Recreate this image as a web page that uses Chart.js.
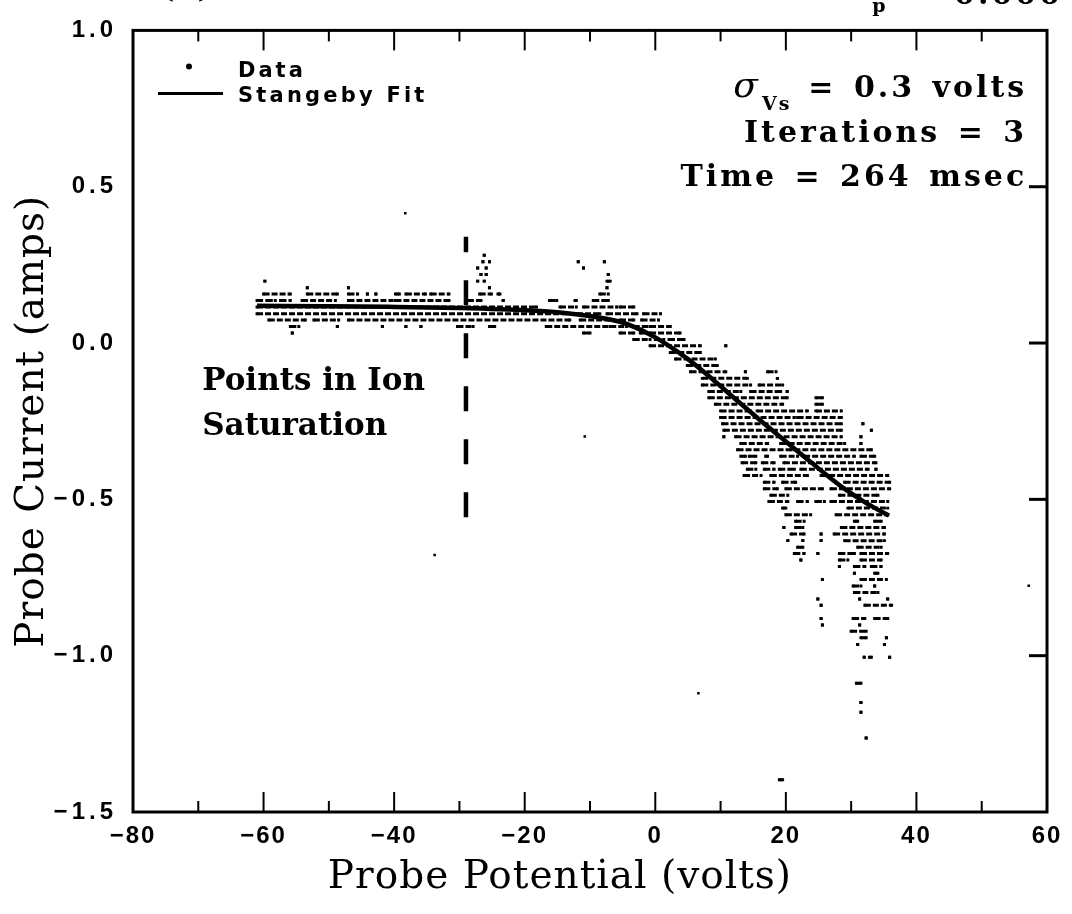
<!DOCTYPE html>
<html>
<head>
<meta charset="utf-8">
<script src="https://cdn.jsdelivr.net/npm/chart.js@4.4.1/dist/chart.umd.min.js"></script>
<style>
  html, body { margin: 0; padding: 0; background: #fff; }
  #wrap { width: 1072px; height: 914px; }
</style>
</head>
<body>
<div id="wrap"><canvas id="probe" width="1072" height="914"></canvas></div>
<script>
// Stangeby fit (volts, amps)
var fitVolts = [-61, -50, -41, -30, -19, -14.6, -9.5, -5.4, -2.3, 0, 1.8, 4.9, 8, 11.1, 13.1, 15, 17.2, 20, 22.3, 24, 26, 28.9, 32, 34, 35.8];
var fitAmps  = [0.119, 0.118, 0.116, 0.112, 0.104, 0.098, 0.085, 0.068, 0.043, 0.018, -0.005, -0.05, -0.102, -0.158, -0.194, -0.228, -0.267, -0.315, -0.355, -0.384, -0.418, -0.465, -0.508, -0.532, -0.552];

// probe data: digitizer levels (amps) and the runs of samples on each level
// (pairs of volts: from, to)
var dataLevels = [0.281, 0.260, 0.240, 0.219, 0.198, 0.177, 0.157, 0.136, 0.115, 0.094,
                  0.074, 0.053, 0.032, 0.011, -0.009, -0.030, -0.051, -0.072, -0.092, -0.113,
                  -0.134, -0.155, -0.175, -0.196, -0.217, -0.238, -0.258, -0.279, -0.300, -0.321,
                  -0.341, -0.362, -0.383, -0.404, -0.424, -0.445, -0.466, -0.487, -0.507, -0.528,
                  -0.549, -0.570, -0.590, -0.611, -0.632, -0.653, -0.673, -0.694, -0.715, -0.736,
                  -0.756, -0.777, -0.798, -0.819, -0.839, -0.881, -0.902, -0.922, -0.943, -0.964,
                  -1.005, -1.088, -1.150, -1.181, -1.263, -1.397];
var dataRuns = [
  [-26.2, -26.2],
  [-26.4, -26.4, -25.4, -25.4, -11.8, -11.8, -7.8, -7.8],
  [-27.2, -27.2, -25.9, -25.9, -11.0, -11.0],
  [-26.7, -26.7, -25.9, -25.9, -7.2, -7.2],
  [-59.8, -59.8, -27.2, -27.2, -26.2, -26.2, -7.4, -6.9],
  [-53.3, -53.3, -47.0, -47.0, -25.4, -25.4, -7.4, -7.4],
  [-60.0, -55.9, -53.3, -48.7, -47.0, -45.6, -44.1, -44.1, -42.8, -42.8, -39.8, -39.2, -38.2, -35.2, -34.4, -31.6, -26.9, -25.1, -24.1, -23.8, -8.5, -7.2],
  [-61.0, -60.3, -59.5, -58.2, -57.4, -55.9, -54.1, -49.0, -47.0, -40.3, -39.8, -31.6, -28.7, -26.7, -23.3, -23.3, -16.2, -15.1, -12.3, -12.1, -9.5, -7.2],
  [-61.0, -18.2, -14.6, -12.1, -11.0, -5.9, -5.4, -3.3],
  [-61.0, -8.5, -7.4, -2.8, -1.8, 0.8],
  [-59.2, -53.6, -52.3, -48.5, -47.0, -13.1, -11.5, -6.4, -5.4, -3.3, -2.1, 0.5],
  [-55.9, -54.6, -48.7, -48.7, -41.8, -41.8, -38.2, -38.2, -35.9, -35.9, -30.3, -27.9, -25.4, -24.6, -16.7, -7.4, -6.9, -4.4, -3.3, -1.3, -0.8, 2.3],
  [-55.6, -55.6, -11.0, -10.0, -5.4, -3.3, -2.3, -1.3, -0.8, 3.8],
  [-3.3, -0.8, 0, 1.3, 2.1, 4.4],
  [-0.8, 6.9, 10.8, 10.8],
  [2.3, 6.9],
  [3.1, 9.2],
  [4.9, 9.5],
  [5.4, 10.8, 13.8, 13.8, 17.2, 18.5],
  [7.2, 14.1, 18.7, 18.7],
  [7.2, 14.6, 15.9, 19.5],
  [8.2, 13.1, 14.6, 19.2, 20.2, 20.2],
  [8.2, 20.2, 24.6, 25.6],
  [9.2, 19.5, 24.6, 25.6],
  [10.0, 14.6, 15.6, 23.3, 24.6, 28.5],
  [10.0, 21.3, 21.8, 28.5],
  [10.3, 28.5, 31.8, 31.8],
  [10.5, 28.5, 33.1, 33.1],
  [10.5, 10.5, 12.3, 28.5, 31.5, 31.5],
  [13.1, 17.2, 19.2, 29.0, 31.5, 31.5],
  [12.6, 20.8, 21.3, 33.1],
  [13.1, 13.8, 14.4, 15.4, 16.9, 17.2, 19.2, 21.8, 22.8, 30.5, 31.5, 33.6],
  [13.3, 15.4, 16.4, 18.2, 19.7, 33.8],
  [14.1, 15.4, 16.7, 18.2, 19.0, 21.3, 22.3, 32.6, 33.8, 33.8],
  [13.6, 16.2, 17.7, 23.3, 25.4, 35.6],
  [16.7, 18.2, 19.5, 21.5, 29.0, 35.9],
  [16.7, 18.7, 20.0, 25.6, 26.9, 35.9],
  [17.7, 20.3, 28.2, 34.1],
  [17.4, 20.3, 21.8, 23.3, 24.6, 25.9, 26.9, 35.6],
  [19.5, 20.0, 29.5, 35.6],
  [20.0, 23.8, 27.7, 35.6],
  [21.5, 22.8, 30.5, 31.0, 33.6, 34.6],
  [19.7, 19.7, 21.5, 22.6, 28.5, 35.1],
  [20.8, 22.8, 25.4, 25.4, 27.4, 35.1],
  [20.3, 20.3, 22.6, 22.6, 25.4, 25.4, 29.0, 35.1],
  [21.8, 22.6, 31.0, 34.6],
  [21.3, 22.8, 24.9, 24.9, 28.2, 30.5, 31.5, 35.6],
  [22.3, 22.3, 28.2, 29.5, 31.5, 34.6],
  [28.2, 28.2, 30.5, 32.1, 33.1, 34.6],
  [30.5, 30.5, 33.6, 34.1],
  [25.6, 25.6, 31.5, 35.4],
  [30.3, 31.5, 33.6, 33.6],
  [30.5, 34.1],
  [24.9, 24.9, 31.3, 31.3, 35.6, 35.6],
  [25.4, 25.4, 32.1, 36.2],
  [25.4, 25.4, 30.3, 32.1, 33.6, 35.6],
  [25.6, 25.6, 31.3, 31.3],
  [30.0, 32.3],
  [31.5, 32.3, 35.4, 35.4],
  [31.0, 31.0, 35.1, 35.1],
  [32.0, 32.0, 32.8, 33.1, 35.9, 35.9],
  [30.8, 31.5],
  [31.5, 31.5],
  [31.5, 31.5],
  [32.3, 32.3],
  [19.0, 19.5]
];

// isolated samples away from the main band
var strayVolts = [-38.3, -10.8, -33.8, 6.6, 57.2];
var strayAmps  = [0.415, -0.299, -0.678, -1.12, -0.776];

// dashed marker at the end of ion saturation
var satVolts = [-29, -29];
var satAmps  = [-0.557, 0.34];

var xTickValues = [-80, -60, -40, -20, 0, 20, 40, 60];
var yTickValues = [-1.5, -1.0, -0.5, 0.0, 0.5, 1.0];

function minus(s) { return s.replace('-', '\u2212'); }

var dataPoints = [];
dataLevels.forEach(function(level, i) {
    var runs = dataRuns[i];
    for (var k = 0; k < runs.length; k += 2) {
        dataPoints.push({x: runs[k], y: level});
        dataPoints.push({x: runs[k + 1], y: level});
        dataPoints.push({x: runs[k + 1], y: null});
    }
});

var fitPoints = fitVolts.map(function(v, i) { return {x: v, y: fitAmps[i]}; });
var strayPoints = strayVolts.map(function(v, i) { return {x: v, y: strayAmps[i]}; });
var satPoints = satVolts.map(function(v, i) { return {x: v, y: satAmps[i]}; });

var SANS = '"DejaVu Sans", sans-serif';
var TICKS = '"Liberation Sans", sans-serif';
var SERIF = '"DejaVu Serif", serif';

// text helper: canvas letter spacing is kept on the context state
function spacedText(ctx, text, x, y, font, ls, ws, align) {
    ctx.font = font;
    ctx.letterSpacing = ls + 'px';
    ctx.wordSpacing = (ws || 0) + 'px';
    ctx.textAlign = align || 'left';
    ctx.fillText(text, align === 'right' ? x + ls : x, y);
    var w = ctx.measureText(text).width;
    ctx.letterSpacing = '0px';
    ctx.wordSpacing = '0px';
    return w;
}

function line(ctx, x0, y0, x1, y1) {
    ctx.beginPath();
    ctx.moveTo(x0, y0);
    ctx.lineTo(x1, y1);
    ctx.stroke();
}

// the scale labels are spaced out like the plotter lettering
function spaceLabels(chart, scale, ls) {
    if (scale._spaced) return;
    var orig = scale.drawLabels;
    scale.drawLabels = function(area) {
        chart.ctx.save();
        chart.ctx.letterSpacing = ls + 'px';
        orig.call(this, area);
        chart.ctx.restore();
    };
    scale._spaced = true;
}

var framePlugin = {
    id: 'frame',
    beforeDraw: function(chart) {
        spaceLabels(chart, chart.scales.y, 4);
        spaceLabels(chart, chart.scales.x, 2);
    },
    afterDraw: function(chart) {
        var ctx = chart.ctx, a = chart.chartArea;
        var xs = chart.scales.x, ys = chart.scales.y;
        ctx.save();
        ctx.strokeStyle = '#000';
        ctx.fillStyle = '#000';

        // frame
        ctx.lineWidth = 3;
        ctx.strokeRect(a.left, a.top, a.right - a.left, a.bottom - a.top);

        // inward x ticks on top and bottom, every 10 volts
        ctx.lineWidth = 2;
        for (var v = -70; v <= 50; v += 10) {
            var px = xs.getPixelForValue(v);
            var len = (v % 20 === 0) ? 20 : 11;
            line(ctx, px, a.bottom, px, a.bottom - len);
            line(ctx, px, a.top, px, a.top + len);
        }
        // inward y ticks on the right side
        ctx.lineWidth = 3;
        yTickValues.forEach(function(t) {
            if (t > ys.min && t < ys.max) {
                var py = ys.getPixelForValue(t);
                line(ctx, a.right - 18, py, a.right, py);
            }
        });

        // axis titles
        ctx.textBaseline = 'middle';
        spacedText(ctx, 'Probe Potential (volts)', xs.getPixelForValue(-14.6), 878, '39px ' + SERIF, 1, 0, 'center');
        ctx.save();
        ctx.translate(33, (a.top + a.bottom) / 2);
        ctx.rotate(-Math.PI / 2);
        spacedText(ctx, 'Probe Current (amps)', 0, 0, '39px ' + SERIF, 1, 0, 'center');
        ctx.restore();

        // legend
        ctx.textBaseline = 'alphabetic';
        ctx.beginPath();
        ctx.arc(a.left + 56, a.top + 36, 3, 0, Math.PI * 2);
        ctx.fill();
        spacedText(ctx, 'Data', a.left + 105, a.top + 47, 'bold 21px ' + SANS, 3);
        ctx.lineWidth = 3;
        line(ctx, a.left + 25, a.top + 63, a.left + 90, a.top + 63);
        spacedText(ctx, 'Stangeby Fit', a.left + 105, a.top + 72, 'bold 21px ' + SANS, 3.2);

        // run information, right aligned
        var rx = xs.getPixelForValue(56.5);
        var bold = 'bold 30px ' + SERIF;
        var mainW = spacedText(ctx, '= 0.3 volts', rx, a.top + 67, bold, 3, 4, 'right');
        var subRight = rx - mainW - 16;
        var subW = spacedText(ctx, 'Vs', subRight, a.top + 80, 'bold 19px ' + SERIF, 2, 0, 'right');
        spacedText(ctx, '\u03c3', subRight - subW - 2, a.top + 67, 'italic 36px ' + SERIF, 0, 0, 'right');
        spacedText(ctx, 'Iterations = 3', rx, a.top + 112, bold, 3, 4, 'right');
        spacedText(ctx, 'Time = 264 msec', rx, a.top + 156, bold, 3, 4, 'right');

        // ion saturation note
        var nx = xs.getPixelForValue(-69.4);
        var ny = ys.getPixelForValue(-0.151);
        spacedText(ctx, 'Points in Ion', nx, ny, 'bold 31px ' + SERIF, 0);
        spacedText(ctx, 'Saturation', nx, ny + 45, 'bold 31px ' + SERIF, 0);

        // page header, cut off by the top edge of the scan
        spacedText(ctx, '(a)', 160, -3, 'bold 30px ' + SERIF, 2);
        var hw = spacedText(ctx, '= 0.000', 1060, 4, bold, 3, 4, 'right');
        spacedText(ctx, 'p', 1060 - hw - 20, 12, 'bold 19px ' + SERIF, 0, 0, 'right');
        ctx.restore();
    }
};

new Chart(document.getElementById('probe'), {
    type: 'scatter',
    data: {
        datasets: [
            {
                label: 'Stangeby Fit', data: fitPoints, showLine: true, order: 0,
                borderColor: '#000', borderWidth: 4.5, pointRadius: 0,
                cubicInterpolationMode: 'monotone'
            },
            {
                label: 'Ion saturation', data: satPoints, showLine: true, order: 1,
                borderColor: '#000', borderWidth: 4.5, borderDash: [25, 28], pointRadius: 0
            },
            {
                label: 'Data', data: dataPoints, showLine: true, spanGaps: false, order: 2,
                borderColor: '#000', borderWidth: 3, borderDash: [6, 2], borderCapStyle: 'butt',
                pointStyle: 'rect', pointRadius: 2.1, pointBackgroundColor: '#000', pointBorderWidth: 0,
                tension: 0
            },
            {
                label: 'Stray', data: strayPoints, order: 3,
                pointStyle: 'rect', pointRadius: 1.8, pointBackgroundColor: '#000', pointBorderWidth: 0
            }
        ]
    },
    options: {
        responsive: false,
        animation: false,
        devicePixelRatio: 1,
        layout: {padding: {top: 17, right: 25, bottom: 0, left: 0}},
        plugins: {legend: {display: false}, tooltip: {enabled: false}},
        scales: {
            x: {
                type: 'linear', min: -80, max: 60,
                afterFit: function(s) { s.height = 102; },
                afterBuildTicks: function(s) { s.ticks = xTickValues.map(function(v) { return {value: v}; }); },
                grid: {display: false, drawTicks: false},
                border: {display: false},
                ticks: {
                    padding: 10, color: '#000', maxRotation: 0, autoSkip: false,
                    font: {family: TICKS, size: 24, weight: 'bold'},
                    callback: function(v) { return minus(String(v)); }
                }
            },
            y: {
                type: 'linear', min: -1.5, max: 1.0,
                afterFit: function(s) { s.width = 133; },
                afterBuildTicks: function(s) { s.ticks = yTickValues.map(function(v) { return {value: v}; }); },
                grid: {display: false, drawTicks: false},
                border: {display: false},
                ticks: {
                    padding: 16, color: '#000', autoSkip: false,
                    font: {family: TICKS, size: 24, weight: 'bold'},
                    callback: function(v) { return minus(v.toFixed(1)); }
                }
            }
        }
    },
    plugins: [framePlugin]
});
</script>
</body>
</html>
